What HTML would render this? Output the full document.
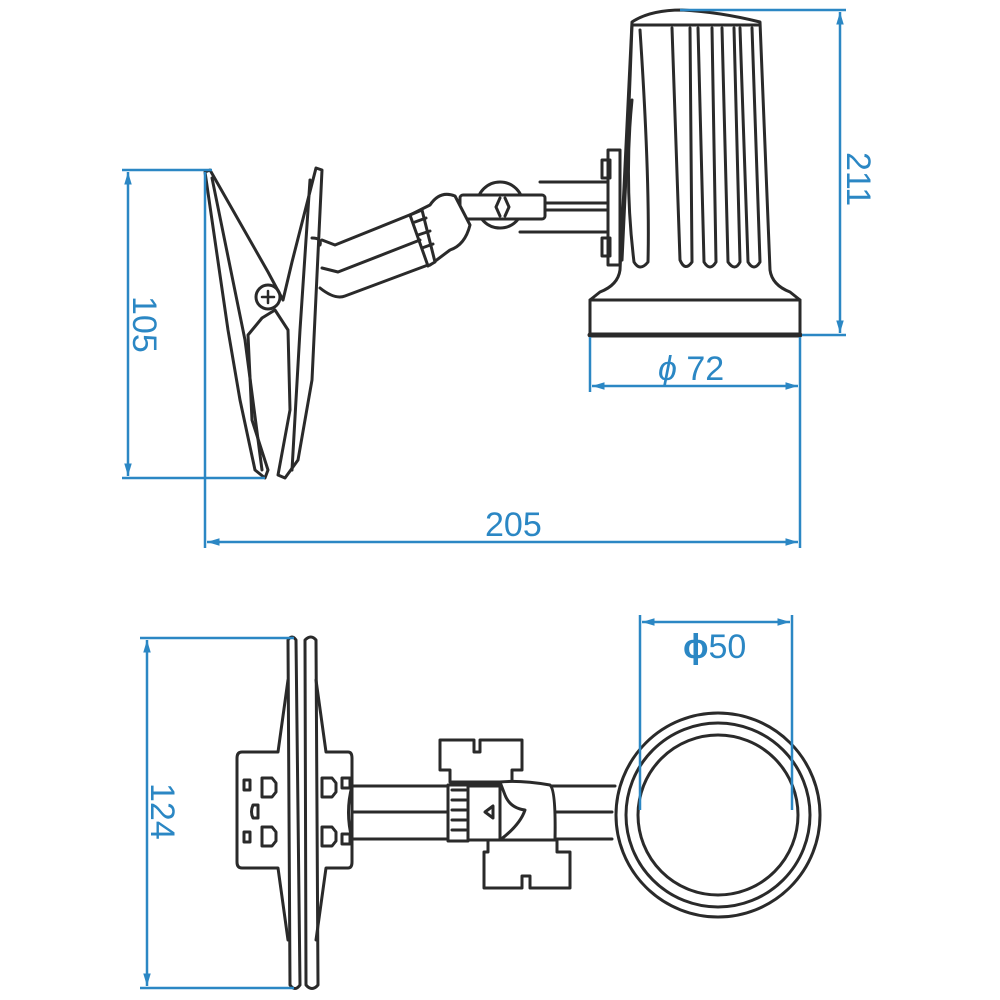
<!DOCTYPE html>
<html><head><meta charset="utf-8"><style>
html,body{margin:0;padding:0;background:#fff;}
svg{display:block}
.d{stroke:#2a2a2a;stroke-width:3;fill:none;stroke-linejoin:round;stroke-linecap:round}
.b{stroke:#2b87c4;stroke-width:2.5;fill:none}
.t{fill:#2b87c4;font-family:"Liberation Sans",sans-serif;font-size:34px}
</style></head><body>
<svg width="1000" height="1000" viewBox="0 0 1000 1000" xmlns="http://www.w3.org/2000/svg">
<defs><marker id="a" viewBox="0 0 10 10" refX="10" refY="5" markerWidth="8" markerHeight="5" orient="auto-start-reverse"><path d="M0,2 L10,5 L0,8 z" fill="#2b87c4"/></marker></defs>

<g class="d">
<path d="M632,22 Q650,10 682,10 Q720,12 760,22 L770,270 Q772,285 790,292 L800,300 L800,335 L590,335 L590,300 L600,292 Q618,285 620,270 Z"/>
<line x1="590" y1="335" x2="800" y2="335" stroke-width="5"/>
<path d="M590,300 L800,300"/>
<path d="M632,25 L760,25"/>
<path d="M632,25 Q628,140 622,260"/>
<path d="M672,28 L680,260 Q685,272 692,262 L690,28"/>
<path d="M698,28 L704,262 Q710,272 716,262 L712,28"/>
<path d="M722,28 L728,262 Q735,272 740,262 L734,28"/>
<path d="M740,28 L748,262 Q754,272 760,262 L752,28"/>
<path d="M632,100 Q624,180 634,262 Q640,272 648,262 Q650,180 640,30"/>
<rect x="608" y="150" width="12" height="115"/>
<rect x="602" y="160" width="8" height="18"/>
<rect x="602" y="238" width="8" height="18"/>
<line x1="540" y1="182" x2="608" y2="182"/>
<line x1="540" y1="203" x2="608" y2="203"/>
<line x1="540" y1="210" x2="608" y2="210"/>
<line x1="520" y1="232" x2="608" y2="232"/>
<circle cx="500" cy="205" r="23" fill="#fff"/>
<rect x="460" y="195" width="85" height="24" rx="3" fill="#fff"/>
<path d="M500,198 L496,207 L500,216 M505,198 L509,207 L505,216"/>
<path d="M410,215 L430,205 Q440,190 455,196 L470,225 Q465,245 450,250 L430,265 Z" fill="#fff"/>
<path d="M410,215 L422,210 L435,262 L428,266 Z" fill="#fff"/>
<path d="M415,222 L426,218 M418,235 L430,231 M422,248 L433,244"/>
<path d="M322,240 L335,245 L412,214"/>
<path d="M322,268 L338,272 L420,240"/>
<path d="M320,288 Q335,300 345,296 L428,265"/>
<path d="M205,172 L210,170 L268,272 L283,300 L292,262 L316,168 L322,170 L312,380 L298,460 L285,478 L278,475 L290,410 L288,330 L275,310 L262,318 L248,335 L252,420 L268,470 L265,478 L255,470 L240,400 L228,330 Z" fill="#fff"/>
<path d="M212,178 L245,340 L262,470"/>
<path d="M310,180 L300,330 L292,470"/>
<circle cx="268" cy="297" r="12"/>
<path d="M262,297 H274 M268,291 V303" stroke-width="2.5"/>
<path d="M312,238 Q322,238 320,245"/>
</g>

<g class="b">
<line x1="122" y1="170" x2="212" y2="170"/>
<line x1="122" y1="478" x2="265" y2="478"/>
<line x1="128" y1="172" x2="128" y2="476" marker-start="url(#a)" marker-end="url(#a)"/>
<line x1="205" y1="172" x2="205" y2="548"/>
<line x1="800" y1="337" x2="800" y2="548"/>
<line x1="207" y1="542" x2="798" y2="542" marker-start="url(#a)" marker-end="url(#a)"/>
<line x1="680" y1="10" x2="846" y2="10"/>
<line x1="802" y1="335" x2="846" y2="335"/>
<line x1="840" y1="12" x2="840" y2="333" marker-start="url(#a)" marker-end="url(#a)"/>
<line x1="590" y1="337" x2="590" y2="392"/>
<line x1="592" y1="386" x2="798" y2="386" marker-start="url(#a)" marker-end="url(#a)"/>
</g>
<text class="t" x="0" y="0" transform="translate(133,296) rotate(90)">105</text>
<text class="t" x="485" y="536">205</text>
<text class="t" x="0" y="0" transform="translate(847,152) rotate(90)">211</text>
<text class="t" x="658" y="380"><tspan font-style="italic">ϕ</tspan> 72</text>

<g class="d">
<path d="M288,640 Q292,634 296,640 L300,985 Q295,992 290,985 Z"/>
<path d="M305,640 Q311,634 316,640 L318,985 Q312,992 306,985 Z"/>
<path d="M288,680 L278,752 L242,752 Q237,752 237,758 L237,862 Q237,868 242,868 L278,868 L288,940"/>
<path d="M316,680 L326,752 L348,752 Q352,752 352,758 L352,862 Q352,868 348,868 L326,868 L316,940"/>
<rect x="244" y="780" width="6" height="10"/><rect x="244" y="832" width="6" height="10"/>
<path d="M262,778 L272,778 L276,783 L276,792 L272,797 L262,797 Z"/>
<path d="M262,827 L272,827 L276,832 L276,841 L272,846 L262,846 Z"/>
<path d="M322,778 L332,778 L336,783 L336,792 L332,797 L322,797 Z"/>
<path d="M322,827 L332,827 L336,832 L336,841 L332,846 L322,846 Z"/>
<path d="M253,805 Q250,812 253,818 L258,818 L258,805 Z"/>
<rect x="342" y="778" width="8" height="10"/><rect x="342" y="834" width="8" height="10"/>
<path d="M352,786 L615,786 M352,812 L460,812 M352,839 L460,839 M555,812 L612,812 M555,839 L612,839"/>
<path d="M352,786 Q345,812 352,839"/>
<path d="M440,740 L474,740 L474,752 L480,752 L480,740 L522,740 L522,770 L512,770 L512,782 L450,782 L450,770 L440,770 Z" fill="#fff"/>
<path d="M488,840 L557,840 L557,852 L570,852 L570,888 L530,888 L530,876 L522,876 L522,888 L484,888 L484,852 L488,852 Z" fill="#fff"/>
<rect x="448" y="785" width="20" height="56" fill="#fff"/>
<path d="M452,790 H466 M452,800 H466 M452,810 H466 M452,820 H466 M452,830 H466"/>
<path d="M468,785 L500,785 L500,840 L468,840"/>
<path d="M485,812 L493,806 L493,818 Z"/>
<path d="M500,782 Q520,780 550,785 Q556,790 555,840 L500,840 Q520,825 525,810 Q510,808 505,795 Z" fill="#fff"/>
<circle cx="718" cy="815" r="102"/>
<circle cx="718" cy="815" r="92"/>
<circle cx="718" cy="815" r="80"/>
</g>

<g class="b">
<line x1="140" y1="638" x2="294" y2="638"/>
<line x1="140" y1="988" x2="294" y2="988"/>
<line x1="147" y1="640" x2="147" y2="986" marker-start="url(#a)" marker-end="url(#a)"/>
<line x1="640" y1="615" x2="640" y2="810"/>
<line x1="792" y1="615" x2="792" y2="810"/>
<line x1="642" y1="622" x2="790" y2="622" marker-start="url(#a)" marker-end="url(#a)"/>
</g>
<text class="t" x="0" y="0" transform="translate(151,783) rotate(90)">124</text>
<text class="t" x="683" y="658"><tspan font-weight="bold">ϕ</tspan>50</text>
</svg>
</body></html>
